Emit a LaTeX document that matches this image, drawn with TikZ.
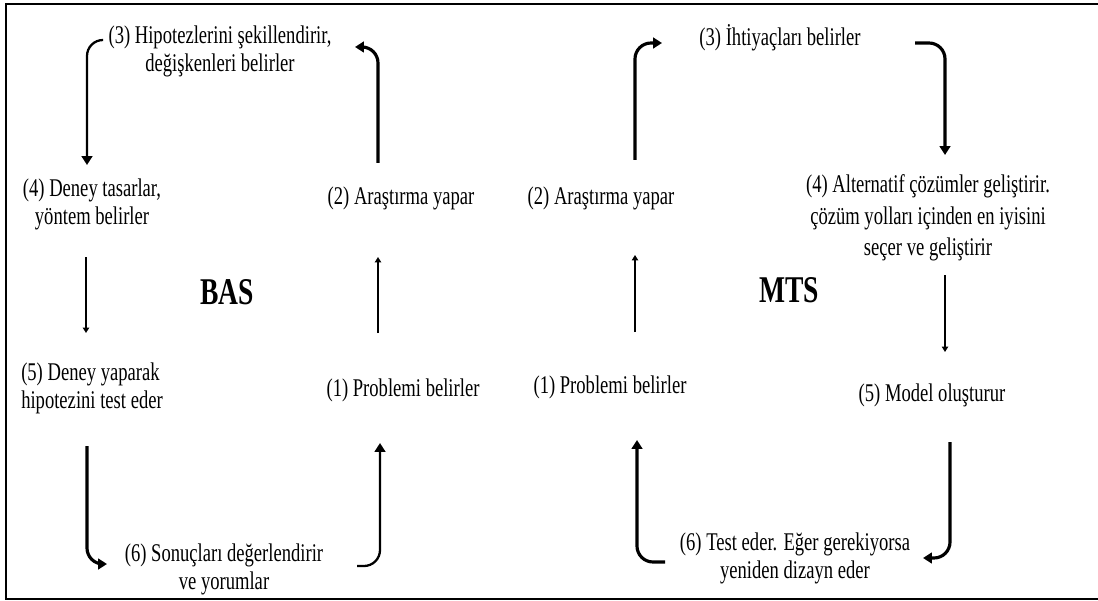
\documentclass[tikz,border=0pt]{standalone}
\usepackage{fontspec}
\setmainfont{Liberation Serif}[FakeStretch=0.73]
\usetikzlibrary{arrows.meta,calc}
\begin{document}
\begin{tikzpicture}[x=0.02cm, y=-0.02cm,
  lbl/.style={inner sep=0pt, align=center, font=\fontsize{14.5}{16}\selectfont},
  ttl/.style={inner sep=0pt, font=\fontsize{21.5}{24}\selectfont\bfseries},
  thickarr/.style={-{Triangle[length=5pt,width=6pt]}, line width=1.8pt, rounded corners=0.32cm},
  thinarr/.style={-{Triangle[length=3pt,width=3.5pt]}, line width=1pt}]
\useasboundingbox (0,0) rectangle (1098,601);
% open frame (left, top, bottom)
\draw[line width=1.6pt] (1098,4) -- (6,4) -- (6,599) -- (1098,599);
% BAS cycle
\node[ttl] (bas) at (227,292) {BAS};
\node[lbl] (b1) at (403,390) {(1) Problemi belirler};
\node[lbl] (b2) at (401,198) {(2) Araştırma yapar};
\node[lbl] (b3) at (220,51) {(3) Hipotezlerini şekillendirir,\\değişkenleri belirler};
\node[lbl] (b4) at (92,204) {(4) Deney tasarlar,\\yöntem belirler};
\node[lbl, align=left] (b5) at (92,388) {(5) Deney yaparak\\hipotezini test eder};
\node[lbl] (b6) at (224,569) {(6) Sonuçları değerlendirir\\ve yorumlar};
\draw[thickarr] ($(b2)+(-23,-35)$) |- ($(b3)+(135,-4)$);
\draw[thickarr, line width=1.3pt] ($(b3)+(-118,-11)$) -| ($(b4)+(-5,-39)$);
\draw[thinarr] ($(b4)+(-6,53)$) -- ($(b5)+(-6,-55)$);
\draw[thickarr] ($(b5)+(-5,58)$) |- ($(b6)+(-117,-5)$);
\draw[thickarr, line width=1.3pt] ($(b6)+(133,-3)$) -| ($(b1)+(-23,53)$);
\draw[thinarr] ($(b1)+(-25,-57)$) -- ($(b2)+(-23,59)$);
% MTS cycle
\node[ttl] (mts) at (789,290) {MTS};
\node[lbl] (m1) at (610,387) {(1) Problemi belirler};
\node[lbl] (m2) at (601,198) {(2) Araştırma yapar};
\node[lbl] (m3) at (780,38) {(3) İhtiyaçları belirler};
\node[lbl, font=\fontsize{14.5}{18}\selectfont] (m4) at (928,218) {(4) Alternatif çözümler geliştirir.\\çözüm yolları içinden en iyisini\\seçer ve geliştirir};
\node[lbl] (m5) at (932,395) {(5) Model oluşturur};
\node[lbl] (m6) at (795,558) {(6) Test eder. Eğer gerekiyorsa\\yeniden dizayn eder};
\draw[thickarr] ($(m2)+(34,-38)$) |- ($(m3)+(-118,5)$);
\draw[thickarr] ($(m3)+(135,5)$) -| ($(m4)+(17,-63)$);
\draw[thinarr] ($(m4)+(17,57)$) -- ($(m5)+(13,-43)$);
\draw[thickarr] ($(m5)+(18,47)$) |- ($(m6)+(128,0)$);
\draw[thickarr] ($(m6)+(-130,4)$) -| ($(m1)+(27,53)$);
\draw[thinarr, line width=1.3pt] ($(m1)+(25,-55)$) -- ($(m2)+(34,57)$);
\end{tikzpicture}
\end{document}
